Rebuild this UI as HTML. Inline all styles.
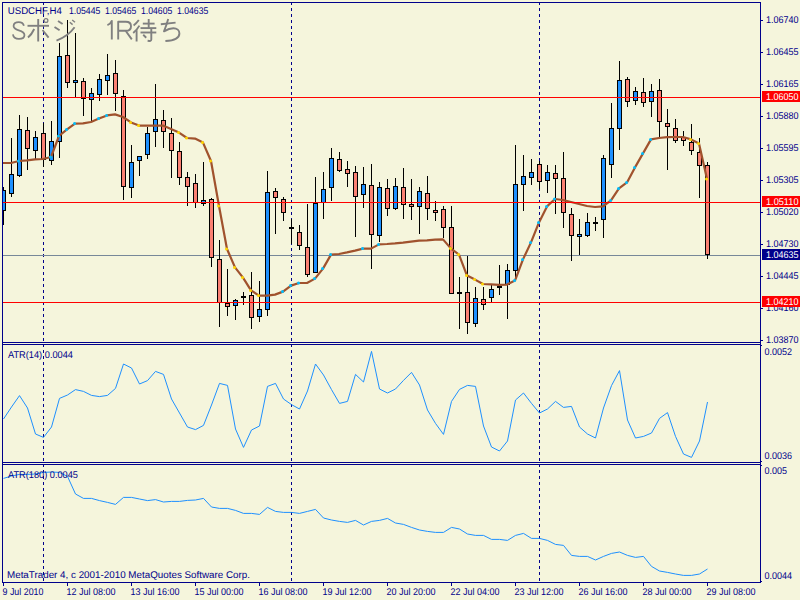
<!DOCTYPE html>
<html><head><meta charset="utf-8"><title>USDCHF,H4</title>
<style>html,body{margin:0;padding:0;background:#F5F5DC;width:800px;height:600px;overflow:hidden}body{font-family:"Liberation Sans",sans-serif}</style></head>
<body>
<svg width="800" height="600" viewBox="0 0 800 600" style="position:absolute;left:0;top:0">
<rect x="0" y="0" width="800" height="600" fill="#F5F5DC"/>
<g shape-rendering="crispEdges" fill="#00008B">
<rect x="43" y="2" width="1" height="3"/>
<rect x="43" y="8" width="1" height="3"/>
<rect x="43" y="14" width="1" height="3"/>
<rect x="43" y="20" width="1" height="3"/>
<rect x="43" y="26" width="1" height="3"/>
<rect x="43" y="32" width="1" height="3"/>
<rect x="43" y="38" width="1" height="3"/>
<rect x="43" y="44" width="1" height="3"/>
<rect x="43" y="50" width="1" height="3"/>
<rect x="43" y="56" width="1" height="3"/>
<rect x="43" y="62" width="1" height="3"/>
<rect x="43" y="68" width="1" height="3"/>
<rect x="43" y="74" width="1" height="3"/>
<rect x="43" y="80" width="1" height="3"/>
<rect x="43" y="86" width="1" height="3"/>
<rect x="43" y="92" width="1" height="3"/>
<rect x="43" y="98" width="1" height="3"/>
<rect x="43" y="104" width="1" height="3"/>
<rect x="43" y="110" width="1" height="3"/>
<rect x="43" y="116" width="1" height="3"/>
<rect x="43" y="122" width="1" height="3"/>
<rect x="43" y="128" width="1" height="3"/>
<rect x="43" y="134" width="1" height="3"/>
<rect x="43" y="140" width="1" height="3"/>
<rect x="43" y="146" width="1" height="3"/>
<rect x="43" y="152" width="1" height="3"/>
<rect x="43" y="158" width="1" height="3"/>
<rect x="43" y="164" width="1" height="3"/>
<rect x="43" y="170" width="1" height="3"/>
<rect x="43" y="176" width="1" height="3"/>
<rect x="43" y="182" width="1" height="3"/>
<rect x="43" y="188" width="1" height="3"/>
<rect x="43" y="194" width="1" height="3"/>
<rect x="43" y="200" width="1" height="3"/>
<rect x="43" y="206" width="1" height="3"/>
<rect x="43" y="212" width="1" height="3"/>
<rect x="43" y="218" width="1" height="3"/>
<rect x="43" y="224" width="1" height="3"/>
<rect x="43" y="230" width="1" height="3"/>
<rect x="43" y="236" width="1" height="3"/>
<rect x="43" y="242" width="1" height="3"/>
<rect x="43" y="248" width="1" height="3"/>
<rect x="43" y="254" width="1" height="3"/>
<rect x="43" y="260" width="1" height="3"/>
<rect x="43" y="266" width="1" height="3"/>
<rect x="43" y="272" width="1" height="3"/>
<rect x="43" y="278" width="1" height="3"/>
<rect x="43" y="284" width="1" height="3"/>
<rect x="43" y="290" width="1" height="3"/>
<rect x="43" y="296" width="1" height="3"/>
<rect x="43" y="302" width="1" height="3"/>
<rect x="43" y="308" width="1" height="3"/>
<rect x="43" y="314" width="1" height="3"/>
<rect x="43" y="320" width="1" height="3"/>
<rect x="43" y="326" width="1" height="3"/>
<rect x="43" y="332" width="1" height="3"/>
<rect x="43" y="338" width="1" height="3"/>
<rect x="43" y="344" width="1" height="3"/>
<rect x="43" y="350" width="1" height="3"/>
<rect x="43" y="356" width="1" height="3"/>
<rect x="43" y="362" width="1" height="3"/>
<rect x="43" y="368" width="1" height="3"/>
<rect x="43" y="374" width="1" height="3"/>
<rect x="43" y="380" width="1" height="3"/>
<rect x="43" y="386" width="1" height="3"/>
<rect x="43" y="392" width="1" height="3"/>
<rect x="43" y="398" width="1" height="3"/>
<rect x="43" y="404" width="1" height="3"/>
<rect x="43" y="410" width="1" height="3"/>
<rect x="43" y="416" width="1" height="3"/>
<rect x="43" y="422" width="1" height="3"/>
<rect x="43" y="428" width="1" height="3"/>
<rect x="43" y="434" width="1" height="3"/>
<rect x="43" y="440" width="1" height="3"/>
<rect x="43" y="446" width="1" height="3"/>
<rect x="43" y="452" width="1" height="3"/>
<rect x="43" y="458" width="1" height="3"/>
<rect x="43" y="464" width="1" height="3"/>
<rect x="43" y="470" width="1" height="3"/>
<rect x="43" y="476" width="1" height="3"/>
<rect x="43" y="482" width="1" height="3"/>
<rect x="43" y="488" width="1" height="3"/>
<rect x="43" y="494" width="1" height="3"/>
<rect x="43" y="500" width="1" height="3"/>
<rect x="43" y="506" width="1" height="3"/>
<rect x="43" y="512" width="1" height="3"/>
<rect x="43" y="518" width="1" height="3"/>
<rect x="43" y="524" width="1" height="3"/>
<rect x="43" y="530" width="1" height="3"/>
<rect x="43" y="536" width="1" height="3"/>
<rect x="43" y="542" width="1" height="3"/>
<rect x="43" y="548" width="1" height="3"/>
<rect x="43" y="554" width="1" height="3"/>
<rect x="43" y="560" width="1" height="3"/>
<rect x="43" y="566" width="1" height="3"/>
<rect x="43" y="572" width="1" height="3"/>
<rect x="43" y="578" width="1" height="3"/>
<rect x="291" y="2" width="1" height="3"/>
<rect x="291" y="8" width="1" height="3"/>
<rect x="291" y="14" width="1" height="3"/>
<rect x="291" y="20" width="1" height="3"/>
<rect x="291" y="26" width="1" height="3"/>
<rect x="291" y="32" width="1" height="3"/>
<rect x="291" y="38" width="1" height="3"/>
<rect x="291" y="44" width="1" height="3"/>
<rect x="291" y="50" width="1" height="3"/>
<rect x="291" y="56" width="1" height="3"/>
<rect x="291" y="62" width="1" height="3"/>
<rect x="291" y="68" width="1" height="3"/>
<rect x="291" y="74" width="1" height="3"/>
<rect x="291" y="80" width="1" height="3"/>
<rect x="291" y="86" width="1" height="3"/>
<rect x="291" y="92" width="1" height="3"/>
<rect x="291" y="98" width="1" height="3"/>
<rect x="291" y="104" width="1" height="3"/>
<rect x="291" y="110" width="1" height="3"/>
<rect x="291" y="116" width="1" height="3"/>
<rect x="291" y="122" width="1" height="3"/>
<rect x="291" y="128" width="1" height="3"/>
<rect x="291" y="134" width="1" height="3"/>
<rect x="291" y="140" width="1" height="3"/>
<rect x="291" y="146" width="1" height="3"/>
<rect x="291" y="152" width="1" height="3"/>
<rect x="291" y="158" width="1" height="3"/>
<rect x="291" y="164" width="1" height="3"/>
<rect x="291" y="170" width="1" height="3"/>
<rect x="291" y="176" width="1" height="3"/>
<rect x="291" y="182" width="1" height="3"/>
<rect x="291" y="188" width="1" height="3"/>
<rect x="291" y="194" width="1" height="3"/>
<rect x="291" y="200" width="1" height="3"/>
<rect x="291" y="206" width="1" height="3"/>
<rect x="291" y="212" width="1" height="3"/>
<rect x="291" y="218" width="1" height="3"/>
<rect x="291" y="224" width="1" height="3"/>
<rect x="291" y="230" width="1" height="3"/>
<rect x="291" y="236" width="1" height="3"/>
<rect x="291" y="242" width="1" height="3"/>
<rect x="291" y="248" width="1" height="3"/>
<rect x="291" y="254" width="1" height="3"/>
<rect x="291" y="260" width="1" height="3"/>
<rect x="291" y="266" width="1" height="3"/>
<rect x="291" y="272" width="1" height="3"/>
<rect x="291" y="278" width="1" height="3"/>
<rect x="291" y="284" width="1" height="3"/>
<rect x="291" y="290" width="1" height="3"/>
<rect x="291" y="296" width="1" height="3"/>
<rect x="291" y="302" width="1" height="3"/>
<rect x="291" y="308" width="1" height="3"/>
<rect x="291" y="314" width="1" height="3"/>
<rect x="291" y="320" width="1" height="3"/>
<rect x="291" y="326" width="1" height="3"/>
<rect x="291" y="332" width="1" height="3"/>
<rect x="291" y="338" width="1" height="3"/>
<rect x="291" y="344" width="1" height="3"/>
<rect x="291" y="350" width="1" height="3"/>
<rect x="291" y="356" width="1" height="3"/>
<rect x="291" y="362" width="1" height="3"/>
<rect x="291" y="368" width="1" height="3"/>
<rect x="291" y="374" width="1" height="3"/>
<rect x="291" y="380" width="1" height="3"/>
<rect x="291" y="386" width="1" height="3"/>
<rect x="291" y="392" width="1" height="3"/>
<rect x="291" y="398" width="1" height="3"/>
<rect x="291" y="404" width="1" height="3"/>
<rect x="291" y="410" width="1" height="3"/>
<rect x="291" y="416" width="1" height="3"/>
<rect x="291" y="422" width="1" height="3"/>
<rect x="291" y="428" width="1" height="3"/>
<rect x="291" y="434" width="1" height="3"/>
<rect x="291" y="440" width="1" height="3"/>
<rect x="291" y="446" width="1" height="3"/>
<rect x="291" y="452" width="1" height="3"/>
<rect x="291" y="458" width="1" height="3"/>
<rect x="291" y="464" width="1" height="3"/>
<rect x="291" y="470" width="1" height="3"/>
<rect x="291" y="476" width="1" height="3"/>
<rect x="291" y="482" width="1" height="3"/>
<rect x="291" y="488" width="1" height="3"/>
<rect x="291" y="494" width="1" height="3"/>
<rect x="291" y="500" width="1" height="3"/>
<rect x="291" y="506" width="1" height="3"/>
<rect x="291" y="512" width="1" height="3"/>
<rect x="291" y="518" width="1" height="3"/>
<rect x="291" y="524" width="1" height="3"/>
<rect x="291" y="530" width="1" height="3"/>
<rect x="291" y="536" width="1" height="3"/>
<rect x="291" y="542" width="1" height="3"/>
<rect x="291" y="548" width="1" height="3"/>
<rect x="291" y="554" width="1" height="3"/>
<rect x="291" y="560" width="1" height="3"/>
<rect x="291" y="566" width="1" height="3"/>
<rect x="291" y="572" width="1" height="3"/>
<rect x="291" y="578" width="1" height="3"/>
<rect x="539" y="2" width="1" height="3"/>
<rect x="539" y="8" width="1" height="3"/>
<rect x="539" y="14" width="1" height="3"/>
<rect x="539" y="20" width="1" height="3"/>
<rect x="539" y="26" width="1" height="3"/>
<rect x="539" y="32" width="1" height="3"/>
<rect x="539" y="38" width="1" height="3"/>
<rect x="539" y="44" width="1" height="3"/>
<rect x="539" y="50" width="1" height="3"/>
<rect x="539" y="56" width="1" height="3"/>
<rect x="539" y="62" width="1" height="3"/>
<rect x="539" y="68" width="1" height="3"/>
<rect x="539" y="74" width="1" height="3"/>
<rect x="539" y="80" width="1" height="3"/>
<rect x="539" y="86" width="1" height="3"/>
<rect x="539" y="92" width="1" height="3"/>
<rect x="539" y="98" width="1" height="3"/>
<rect x="539" y="104" width="1" height="3"/>
<rect x="539" y="110" width="1" height="3"/>
<rect x="539" y="116" width="1" height="3"/>
<rect x="539" y="122" width="1" height="3"/>
<rect x="539" y="128" width="1" height="3"/>
<rect x="539" y="134" width="1" height="3"/>
<rect x="539" y="140" width="1" height="3"/>
<rect x="539" y="146" width="1" height="3"/>
<rect x="539" y="152" width="1" height="3"/>
<rect x="539" y="158" width="1" height="3"/>
<rect x="539" y="164" width="1" height="3"/>
<rect x="539" y="170" width="1" height="3"/>
<rect x="539" y="176" width="1" height="3"/>
<rect x="539" y="182" width="1" height="3"/>
<rect x="539" y="188" width="1" height="3"/>
<rect x="539" y="194" width="1" height="3"/>
<rect x="539" y="200" width="1" height="3"/>
<rect x="539" y="206" width="1" height="3"/>
<rect x="539" y="212" width="1" height="3"/>
<rect x="539" y="218" width="1" height="3"/>
<rect x="539" y="224" width="1" height="3"/>
<rect x="539" y="230" width="1" height="3"/>
<rect x="539" y="236" width="1" height="3"/>
<rect x="539" y="242" width="1" height="3"/>
<rect x="539" y="248" width="1" height="3"/>
<rect x="539" y="254" width="1" height="3"/>
<rect x="539" y="260" width="1" height="3"/>
<rect x="539" y="266" width="1" height="3"/>
<rect x="539" y="272" width="1" height="3"/>
<rect x="539" y="278" width="1" height="3"/>
<rect x="539" y="284" width="1" height="3"/>
<rect x="539" y="290" width="1" height="3"/>
<rect x="539" y="296" width="1" height="3"/>
<rect x="539" y="302" width="1" height="3"/>
<rect x="539" y="308" width="1" height="3"/>
<rect x="539" y="314" width="1" height="3"/>
<rect x="539" y="320" width="1" height="3"/>
<rect x="539" y="326" width="1" height="3"/>
<rect x="539" y="332" width="1" height="3"/>
<rect x="539" y="338" width="1" height="3"/>
<rect x="539" y="344" width="1" height="3"/>
<rect x="539" y="350" width="1" height="3"/>
<rect x="539" y="356" width="1" height="3"/>
<rect x="539" y="362" width="1" height="3"/>
<rect x="539" y="368" width="1" height="3"/>
<rect x="539" y="374" width="1" height="3"/>
<rect x="539" y="380" width="1" height="3"/>
<rect x="539" y="386" width="1" height="3"/>
<rect x="539" y="392" width="1" height="3"/>
<rect x="539" y="398" width="1" height="3"/>
<rect x="539" y="404" width="1" height="3"/>
<rect x="539" y="410" width="1" height="3"/>
<rect x="539" y="416" width="1" height="3"/>
<rect x="539" y="422" width="1" height="3"/>
<rect x="539" y="428" width="1" height="3"/>
<rect x="539" y="434" width="1" height="3"/>
<rect x="539" y="440" width="1" height="3"/>
<rect x="539" y="446" width="1" height="3"/>
<rect x="539" y="452" width="1" height="3"/>
<rect x="539" y="458" width="1" height="3"/>
<rect x="539" y="464" width="1" height="3"/>
<rect x="539" y="470" width="1" height="3"/>
<rect x="539" y="476" width="1" height="3"/>
<rect x="539" y="482" width="1" height="3"/>
<rect x="539" y="488" width="1" height="3"/>
<rect x="539" y="494" width="1" height="3"/>
<rect x="539" y="500" width="1" height="3"/>
<rect x="539" y="506" width="1" height="3"/>
<rect x="539" y="512" width="1" height="3"/>
<rect x="539" y="518" width="1" height="3"/>
<rect x="539" y="524" width="1" height="3"/>
<rect x="539" y="530" width="1" height="3"/>
<rect x="539" y="536" width="1" height="3"/>
<rect x="539" y="542" width="1" height="3"/>
<rect x="539" y="548" width="1" height="3"/>
<rect x="539" y="554" width="1" height="3"/>
<rect x="539" y="560" width="1" height="3"/>
<rect x="539" y="566" width="1" height="3"/>
<rect x="539" y="572" width="1" height="3"/>
<rect x="539" y="578" width="1" height="3"/>
</g>
<g shape-rendering="crispEdges">
<rect x="3" y="255" width="757" height="1" fill="#778899"/>
</g>
<clipPath id="cp"><rect x="2" y="2" width="758" height="581"/></clipPath>
<g shape-rendering="crispEdges" clip-path="url(#cp)">
<rect x="3" y="187" width="1" height="38" fill="#000"/>
<rect x="1" y="190" width="5" height="21" fill="#000"/>
<rect x="2" y="191" width="3" height="19" fill="#1E90FF"/>
<rect x="11" y="138" width="1" height="59" fill="#000"/>
<rect x="9" y="174" width="5" height="20" fill="#000"/>
<rect x="10" y="175" width="3" height="18" fill="#1E90FF"/>
<rect x="19" y="115" width="1" height="62" fill="#000"/>
<rect x="17" y="129" width="5" height="47" fill="#000"/>
<rect x="18" y="130" width="3" height="45" fill="#1E90FF"/>
<rect x="27" y="117" width="1" height="53" fill="#000"/>
<rect x="25" y="130" width="5" height="19" fill="#000"/>
<rect x="26" y="131" width="3" height="17" fill="#FA8072"/>
<rect x="35" y="131" width="1" height="28" fill="#000"/>
<rect x="33" y="137" width="5" height="14" fill="#000"/>
<rect x="34" y="138" width="3" height="12" fill="#1E90FF"/>
<rect x="43" y="123" width="1" height="44" fill="#000"/>
<rect x="41" y="133" width="5" height="27" fill="#000"/>
<rect x="42" y="134" width="3" height="25" fill="#FA8072"/>
<rect x="51" y="121" width="1" height="44" fill="#000"/>
<rect x="49" y="141" width="5" height="20" fill="#000"/>
<rect x="50" y="142" width="3" height="18" fill="#1E90FF"/>
<rect x="59" y="43" width="1" height="115" fill="#000"/>
<rect x="57" y="56" width="5" height="86" fill="#000"/>
<rect x="58" y="57" width="3" height="84" fill="#1E90FF"/>
<rect x="67" y="20" width="1" height="68" fill="#000"/>
<rect x="65" y="55" width="5" height="28" fill="#000"/>
<rect x="66" y="56" width="3" height="26" fill="#FA8072"/>
<rect x="75" y="33" width="1" height="64" fill="#000"/>
<rect x="73" y="80" width="5" height="3" fill="#000"/>
<rect x="74" y="81" width="3" height="1" fill="#1E90FF"/>
<rect x="83" y="78" width="1" height="38" fill="#000"/>
<rect x="81" y="81" width="5" height="18" fill="#000"/>
<rect x="82" y="82" width="3" height="16" fill="#FA8072"/>
<rect x="91" y="88" width="1" height="33" fill="#000"/>
<rect x="89" y="93" width="5" height="7" fill="#000"/>
<rect x="90" y="94" width="3" height="5" fill="#1E90FF"/>
<rect x="99" y="74" width="1" height="27" fill="#000"/>
<rect x="97" y="79" width="5" height="16" fill="#000"/>
<rect x="98" y="80" width="3" height="14" fill="#1E90FF"/>
<rect x="107" y="54" width="1" height="41" fill="#000"/>
<rect x="105" y="75" width="5" height="6" fill="#000"/>
<rect x="106" y="76" width="3" height="4" fill="#1E90FF"/>
<rect x="115" y="60" width="1" height="51" fill="#000"/>
<rect x="113" y="73" width="5" height="21" fill="#000"/>
<rect x="114" y="74" width="3" height="19" fill="#FA8072"/>
<rect x="123" y="90" width="1" height="110" fill="#000"/>
<rect x="121" y="96" width="5" height="91" fill="#000"/>
<rect x="122" y="97" width="3" height="89" fill="#FA8072"/>
<rect x="131" y="145" width="1" height="53" fill="#000"/>
<rect x="129" y="162" width="5" height="26" fill="#000"/>
<rect x="130" y="163" width="3" height="24" fill="#1E90FF"/>
<rect x="139" y="156" width="1" height="20" fill="#000"/>
<rect x="137" y="156" width="5" height="5" fill="#000"/>
<rect x="138" y="157" width="3" height="3" fill="#1E90FF"/>
<rect x="147" y="127" width="1" height="32" fill="#000"/>
<rect x="145" y="133" width="5" height="22" fill="#000"/>
<rect x="146" y="134" width="3" height="20" fill="#1E90FF"/>
<rect x="155" y="84" width="1" height="63" fill="#000"/>
<rect x="153" y="119" width="5" height="13" fill="#000"/>
<rect x="154" y="120" width="3" height="11" fill="#1E90FF"/>
<rect x="163" y="110" width="1" height="38" fill="#000"/>
<rect x="161" y="120" width="5" height="12" fill="#000"/>
<rect x="162" y="121" width="3" height="10" fill="#FA8072"/>
<rect x="171" y="118" width="1" height="60" fill="#000"/>
<rect x="169" y="133" width="5" height="18" fill="#000"/>
<rect x="170" y="134" width="3" height="16" fill="#FA8072"/>
<rect x="179" y="142" width="1" height="43" fill="#000"/>
<rect x="177" y="151" width="5" height="27" fill="#000"/>
<rect x="178" y="152" width="3" height="25" fill="#FA8072"/>
<rect x="187" y="172" width="1" height="34" fill="#000"/>
<rect x="185" y="177" width="5" height="10" fill="#000"/>
<rect x="186" y="178" width="3" height="8" fill="#FA8072"/>
<rect x="195" y="174" width="1" height="34" fill="#000"/>
<rect x="193" y="183" width="5" height="20" fill="#000"/>
<rect x="194" y="184" width="3" height="18" fill="#FA8072"/>
<rect x="203" y="162" width="1" height="44" fill="#000"/>
<rect x="201" y="200" width="5" height="4" fill="#000"/>
<rect x="202" y="201" width="3" height="2" fill="#1E90FF"/>
<rect x="211" y="198" width="1" height="69" fill="#000"/>
<rect x="209" y="199" width="5" height="59" fill="#000"/>
<rect x="210" y="200" width="3" height="57" fill="#FA8072"/>
<rect x="219" y="240" width="1" height="87" fill="#000"/>
<rect x="217" y="259" width="5" height="44" fill="#000"/>
<rect x="218" y="260" width="3" height="42" fill="#FA8072"/>
<rect x="227" y="269" width="1" height="47" fill="#000"/>
<rect x="225" y="303" width="5" height="4" fill="#000"/>
<rect x="226" y="304" width="3" height="2" fill="#FA8072"/>
<rect x="235" y="299" width="1" height="21" fill="#000"/>
<rect x="233" y="300" width="5" height="6" fill="#000"/>
<rect x="234" y="301" width="3" height="4" fill="#1E90FF"/>
<rect x="243" y="292" width="1" height="13" fill="#000"/>
<rect x="241" y="296" width="5" height="2" fill="#000"/>
<rect x="251" y="272" width="1" height="57" fill="#000"/>
<rect x="249" y="295" width="5" height="23" fill="#000"/>
<rect x="250" y="296" width="3" height="21" fill="#FA8072"/>
<rect x="259" y="281" width="1" height="41" fill="#000"/>
<rect x="257" y="309" width="5" height="8" fill="#000"/>
<rect x="258" y="310" width="3" height="6" fill="#1E90FF"/>
<rect x="267" y="171" width="1" height="145" fill="#000"/>
<rect x="265" y="192" width="5" height="118" fill="#000"/>
<rect x="266" y="193" width="3" height="116" fill="#1E90FF"/>
<rect x="275" y="188" width="1" height="46" fill="#000"/>
<rect x="273" y="191" width="5" height="7" fill="#000"/>
<rect x="274" y="192" width="3" height="5" fill="#FA8072"/>
<rect x="283" y="197" width="1" height="24" fill="#000"/>
<rect x="281" y="199" width="5" height="14" fill="#000"/>
<rect x="282" y="200" width="3" height="12" fill="#FA8072"/>
<rect x="291" y="219" width="1" height="25" fill="#000"/>
<rect x="289" y="227" width="5" height="2" fill="#000"/>
<rect x="299" y="225" width="1" height="25" fill="#000"/>
<rect x="297" y="232" width="5" height="14" fill="#000"/>
<rect x="298" y="233" width="3" height="12" fill="#FA8072"/>
<rect x="307" y="204" width="1" height="73" fill="#000"/>
<rect x="305" y="247" width="5" height="28" fill="#000"/>
<rect x="306" y="248" width="3" height="26" fill="#FA8072"/>
<rect x="315" y="177" width="1" height="96" fill="#000"/>
<rect x="313" y="203" width="5" height="70" fill="#000"/>
<rect x="314" y="204" width="3" height="68" fill="#1E90FF"/>
<rect x="323" y="172" width="1" height="47" fill="#000"/>
<rect x="321" y="189" width="5" height="14" fill="#000"/>
<rect x="322" y="190" width="3" height="12" fill="#1E90FF"/>
<rect x="331" y="148" width="1" height="53" fill="#000"/>
<rect x="329" y="158" width="5" height="30" fill="#000"/>
<rect x="330" y="159" width="3" height="28" fill="#1E90FF"/>
<rect x="339" y="152" width="1" height="20" fill="#000"/>
<rect x="337" y="159" width="5" height="12" fill="#000"/>
<rect x="338" y="160" width="3" height="10" fill="#FA8072"/>
<rect x="347" y="161" width="1" height="26" fill="#000"/>
<rect x="345" y="169" width="5" height="5" fill="#000"/>
<rect x="346" y="170" width="3" height="3" fill="#FA8072"/>
<rect x="355" y="166" width="1" height="71" fill="#000"/>
<rect x="353" y="172" width="5" height="25" fill="#000"/>
<rect x="354" y="173" width="3" height="23" fill="#FA8072"/>
<rect x="363" y="167" width="1" height="41" fill="#000"/>
<rect x="361" y="184" width="5" height="11" fill="#000"/>
<rect x="362" y="185" width="3" height="9" fill="#1E90FF"/>
<rect x="371" y="164" width="1" height="105" fill="#000"/>
<rect x="369" y="185" width="5" height="50" fill="#000"/>
<rect x="370" y="186" width="3" height="48" fill="#FA8072"/>
<rect x="379" y="182" width="1" height="60" fill="#000"/>
<rect x="377" y="187" width="5" height="49" fill="#000"/>
<rect x="378" y="188" width="3" height="47" fill="#1E90FF"/>
<rect x="387" y="179" width="1" height="37" fill="#000"/>
<rect x="385" y="188" width="5" height="21" fill="#000"/>
<rect x="386" y="189" width="3" height="19" fill="#FA8072"/>
<rect x="395" y="178" width="1" height="32" fill="#000"/>
<rect x="393" y="186" width="5" height="23" fill="#000"/>
<rect x="394" y="187" width="3" height="21" fill="#1E90FF"/>
<rect x="403" y="168" width="1" height="51" fill="#000"/>
<rect x="401" y="187" width="5" height="18" fill="#000"/>
<rect x="402" y="188" width="3" height="16" fill="#FA8072"/>
<rect x="411" y="179" width="1" height="41" fill="#000"/>
<rect x="409" y="204" width="5" height="3" fill="#000"/>
<rect x="410" y="205" width="3" height="1" fill="#FA8072"/>
<rect x="419" y="187" width="1" height="47" fill="#000"/>
<rect x="417" y="191" width="5" height="16" fill="#000"/>
<rect x="418" y="192" width="3" height="14" fill="#1E90FF"/>
<rect x="427" y="176" width="1" height="44" fill="#000"/>
<rect x="425" y="193" width="5" height="16" fill="#000"/>
<rect x="426" y="194" width="3" height="14" fill="#FA8072"/>
<rect x="435" y="201" width="1" height="20" fill="#000"/>
<rect x="433" y="210" width="5" height="3" fill="#000"/>
<rect x="434" y="211" width="3" height="1" fill="#FA8072"/>
<rect x="443" y="206" width="1" height="32" fill="#000"/>
<rect x="441" y="209" width="5" height="19" fill="#000"/>
<rect x="442" y="210" width="3" height="17" fill="#FA8072"/>
<rect x="451" y="206" width="1" height="88" fill="#000"/>
<rect x="449" y="227" width="5" height="67" fill="#000"/>
<rect x="450" y="228" width="3" height="65" fill="#FA8072"/>
<rect x="459" y="277" width="1" height="52" fill="#000"/>
<rect x="457" y="292" width="5" height="2" fill="#000"/>
<rect x="467" y="256" width="1" height="78" fill="#000"/>
<rect x="465" y="292" width="5" height="31" fill="#000"/>
<rect x="466" y="293" width="3" height="29" fill="#FA8072"/>
<rect x="475" y="287" width="1" height="40" fill="#000"/>
<rect x="473" y="298" width="5" height="26" fill="#000"/>
<rect x="474" y="299" width="3" height="24" fill="#1E90FF"/>
<rect x="483" y="287" width="1" height="23" fill="#000"/>
<rect x="481" y="299" width="5" height="6" fill="#000"/>
<rect x="482" y="300" width="3" height="4" fill="#FA8072"/>
<rect x="491" y="285" width="1" height="17" fill="#000"/>
<rect x="489" y="289" width="5" height="9" fill="#000"/>
<rect x="490" y="290" width="3" height="7" fill="#1E90FF"/>
<rect x="499" y="265" width="1" height="30" fill="#000"/>
<rect x="497" y="286" width="5" height="2" fill="#000"/>
<rect x="507" y="264" width="1" height="55" fill="#000"/>
<rect x="505" y="270" width="5" height="15" fill="#000"/>
<rect x="506" y="271" width="3" height="13" fill="#1E90FF"/>
<rect x="515" y="145" width="1" height="133" fill="#000"/>
<rect x="513" y="184" width="5" height="87" fill="#000"/>
<rect x="514" y="185" width="3" height="85" fill="#1E90FF"/>
<rect x="523" y="155" width="1" height="56" fill="#000"/>
<rect x="521" y="176" width="5" height="9" fill="#000"/>
<rect x="522" y="177" width="3" height="7" fill="#1E90FF"/>
<rect x="531" y="159" width="1" height="26" fill="#000"/>
<rect x="529" y="172" width="5" height="6" fill="#000"/>
<rect x="530" y="173" width="3" height="4" fill="#1E90FF"/>
<rect x="539" y="161" width="1" height="28" fill="#000"/>
<rect x="537" y="164" width="5" height="18" fill="#000"/>
<rect x="538" y="165" width="3" height="16" fill="#FA8072"/>
<rect x="547" y="165" width="1" height="28" fill="#000"/>
<rect x="545" y="172" width="5" height="9" fill="#000"/>
<rect x="546" y="173" width="3" height="7" fill="#1E90FF"/>
<rect x="555" y="165" width="1" height="49" fill="#000"/>
<rect x="553" y="173" width="5" height="6" fill="#000"/>
<rect x="554" y="174" width="3" height="4" fill="#FA8072"/>
<rect x="563" y="152" width="1" height="76" fill="#000"/>
<rect x="561" y="178" width="5" height="35" fill="#000"/>
<rect x="562" y="179" width="3" height="33" fill="#FA8072"/>
<rect x="571" y="208" width="1" height="53" fill="#000"/>
<rect x="569" y="214" width="5" height="22" fill="#000"/>
<rect x="570" y="215" width="3" height="20" fill="#FA8072"/>
<rect x="579" y="219" width="1" height="36" fill="#000"/>
<rect x="577" y="234" width="5" height="3" fill="#000"/>
<rect x="578" y="235" width="3" height="1" fill="#1E90FF"/>
<rect x="587" y="213" width="1" height="24" fill="#000"/>
<rect x="585" y="222" width="5" height="14" fill="#000"/>
<rect x="586" y="223" width="3" height="12" fill="#1E90FF"/>
<rect x="595" y="217" width="1" height="14" fill="#000"/>
<rect x="593" y="222" width="5" height="2" fill="#000"/>
<rect x="603" y="155" width="1" height="83" fill="#000"/>
<rect x="601" y="158" width="5" height="62" fill="#000"/>
<rect x="602" y="159" width="3" height="60" fill="#1E90FF"/>
<rect x="611" y="103" width="1" height="75" fill="#000"/>
<rect x="609" y="128" width="5" height="37" fill="#000"/>
<rect x="610" y="129" width="3" height="35" fill="#1E90FF"/>
<rect x="619" y="61" width="1" height="89" fill="#000"/>
<rect x="617" y="80" width="5" height="49" fill="#000"/>
<rect x="618" y="81" width="3" height="47" fill="#1E90FF"/>
<rect x="627" y="77" width="1" height="30" fill="#000"/>
<rect x="625" y="79" width="5" height="23" fill="#000"/>
<rect x="626" y="80" width="3" height="21" fill="#FA8072"/>
<rect x="635" y="87" width="1" height="18" fill="#000"/>
<rect x="633" y="91" width="5" height="10" fill="#000"/>
<rect x="634" y="92" width="3" height="8" fill="#1E90FF"/>
<rect x="643" y="78" width="1" height="29" fill="#000"/>
<rect x="641" y="92" width="5" height="11" fill="#000"/>
<rect x="642" y="93" width="3" height="9" fill="#FA8072"/>
<rect x="651" y="84" width="1" height="33" fill="#000"/>
<rect x="649" y="91" width="5" height="11" fill="#000"/>
<rect x="650" y="92" width="3" height="9" fill="#1E90FF"/>
<rect x="659" y="79" width="1" height="59" fill="#000"/>
<rect x="657" y="90" width="5" height="32" fill="#000"/>
<rect x="658" y="91" width="3" height="30" fill="#FA8072"/>
<rect x="667" y="109" width="1" height="61" fill="#000"/>
<rect x="665" y="123" width="5" height="4" fill="#000"/>
<rect x="666" y="124" width="3" height="2" fill="#FA8072"/>
<rect x="675" y="119" width="1" height="24" fill="#000"/>
<rect x="673" y="128" width="5" height="13" fill="#000"/>
<rect x="674" y="129" width="3" height="11" fill="#FA8072"/>
<rect x="683" y="131" width="1" height="15" fill="#000"/>
<rect x="681" y="137" width="5" height="4" fill="#000"/>
<rect x="682" y="138" width="3" height="2" fill="#FA8072"/>
<rect x="691" y="124" width="1" height="31" fill="#000"/>
<rect x="689" y="142" width="5" height="9" fill="#000"/>
<rect x="690" y="143" width="3" height="7" fill="#FA8072"/>
<rect x="699" y="138" width="1" height="60" fill="#000"/>
<rect x="697" y="152" width="5" height="14" fill="#000"/>
<rect x="698" y="153" width="3" height="12" fill="#FA8072"/>
<rect x="707" y="162" width="1" height="97" fill="#000"/>
<rect x="705" y="165" width="5" height="90" fill="#000"/>
<rect x="706" y="166" width="3" height="88" fill="#FA8072"/>
</g>
<polyline points="3,163.0 11,163.0 19,161.0 27,160.4 35,159.4 43,159.0 51,157.0 59,136.0 67,129.4 75,123.6 83,123.4 91,122.0 99,118.6 107,115.4 115,114.4 123,117.0 131,122.4 139,125.6 147,125.6 155,125.6 163,125.6 171,129.0 179,132.6 187,138.0 195,138.6 203,142.6 211,161.0 219,206.0 227,249.0 235,267.4 243,277.6 251,290.4 259,295.6 267,295.6 275,294.6 283,291.6 291,285.6 299,283.0 307,283.0 315,278.6 323,268.6 331,254.6 339,254.0 347,252.4 355,250.6 363,248.6 371,248.6 379,244.4 387,244.0 395,243.4 403,242.6 411,241.6 419,240.6 427,240.4 435,239.6 443,239.4 451,248.6 459,254.6 467,275.6 475,279.6 483,284.0 491,284.4 499,284.8 507,284.6 515,280.6 523,259.4 531,242.4 539,222.4 547,206.4 555,199.0 563,200.0 571,202.0 579,204.0 587,206.0 595,207.0 603,206.4 611,200.4 619,188.4 627,182.4 635,167.4 643,153.4 651,139.4 659,138.0 667,137.2 675,137.0 683,137.0 691,139.4 699,143.4 707,179.0" fill="none" stroke="#A0522D" stroke-width="2.2" stroke-linejoin="round" stroke-linecap="butt"/>
<circle cx="18.5" cy="161.0" r="1.5" fill="#00BFFF"/>
<circle cx="50.5" cy="157.0" r="1.5" fill="#00BFFF"/>
<circle cx="58.5" cy="136.0" r="1.5" fill="#00BFFF"/>
<circle cx="66.5" cy="129.4" r="1.5" fill="#00BFFF"/>
<circle cx="74.5" cy="123.6" r="1.5" fill="#00BFFF"/>
<circle cx="98.5" cy="118.6" r="1.5" fill="#00BFFF"/>
<circle cx="106.5" cy="115.4" r="1.5" fill="#00BFFF"/>
<circle cx="282.5" cy="291.6" r="1.5" fill="#00BFFF"/>
<circle cx="290.5" cy="285.6" r="1.5" fill="#00BFFF"/>
<circle cx="298.5" cy="283.0" r="1.5" fill="#00BFFF"/>
<circle cx="314.5" cy="278.6" r="1.5" fill="#00BFFF"/>
<circle cx="322.5" cy="268.6" r="1.5" fill="#00BFFF"/>
<circle cx="330.5" cy="254.6" r="1.5" fill="#00BFFF"/>
<circle cx="362.5" cy="248.6" r="1.5" fill="#00BFFF"/>
<circle cx="378.5" cy="244.4" r="1.5" fill="#00BFFF"/>
<circle cx="514.5" cy="280.6" r="1.5" fill="#00BFFF"/>
<circle cx="522.5" cy="259.4" r="1.5" fill="#00BFFF"/>
<circle cx="530.5" cy="242.4" r="1.5" fill="#00BFFF"/>
<circle cx="538.5" cy="222.4" r="1.5" fill="#00BFFF"/>
<circle cx="546.5" cy="206.4" r="1.5" fill="#00BFFF"/>
<circle cx="554.5" cy="199.0" r="1.5" fill="#00BFFF"/>
<circle cx="610.5" cy="200.4" r="1.5" fill="#00BFFF"/>
<circle cx="618.5" cy="188.4" r="1.5" fill="#00BFFF"/>
<circle cx="626.5" cy="182.4" r="1.5" fill="#00BFFF"/>
<circle cx="634.5" cy="167.4" r="1.5" fill="#00BFFF"/>
<circle cx="642.5" cy="153.4" r="1.5" fill="#00BFFF"/>
<circle cx="650.5" cy="139.4" r="1.5" fill="#00BFFF"/>
<circle cx="130.5" cy="122.4" r="1.5" fill="#FFD700"/>
<circle cx="138.5" cy="125.6" r="1.5" fill="#FFD700"/>
<circle cx="178.5" cy="132.6" r="1.5" fill="#FFD700"/>
<circle cx="186.5" cy="138.0" r="1.5" fill="#FFD700"/>
<circle cx="202.5" cy="142.6" r="1.5" fill="#FFD700"/>
<circle cx="210.5" cy="161.0" r="1.5" fill="#FFD700"/>
<circle cx="218.5" cy="206.0" r="1.5" fill="#FFD700"/>
<circle cx="226.5" cy="249.0" r="1.5" fill="#FFD700"/>
<circle cx="234.5" cy="267.4" r="1.5" fill="#FFD700"/>
<circle cx="242.5" cy="277.6" r="1.5" fill="#FFD700"/>
<circle cx="250.5" cy="290.4" r="1.5" fill="#FFD700"/>
<circle cx="258.5" cy="295.6" r="1.5" fill="#FFD700"/>
<circle cx="450.5" cy="248.6" r="1.5" fill="#FFD700"/>
<circle cx="458.5" cy="254.6" r="1.5" fill="#FFD700"/>
<circle cx="466.5" cy="275.6" r="1.5" fill="#FFD700"/>
<circle cx="474.5" cy="279.6" r="1.5" fill="#FFD700"/>
<circle cx="482.5" cy="284.0" r="1.5" fill="#FFD700"/>
<circle cx="690.5" cy="139.4" r="1.5" fill="#FFD700"/>
<circle cx="698.5" cy="143.4" r="1.5" fill="#FFD700"/>
<circle cx="706.5" cy="179.0" r="1.5" fill="#FFD700"/>
<g shape-rendering="crispEdges">
<rect x="3" y="97" width="757" height="1" fill="#FF0000"/>
<rect x="3" y="202" width="757" height="1" fill="#FF0000"/>
<rect x="3" y="302" width="757" height="1" fill="#FF0000"/>
</g>
<polyline points="3.5,419.0 11.5,407.0 19.5,395.6 27.5,408.0 35.5,434.0 43.5,437.4 51.5,427.0 59.5,398.4 67.5,395.0 75.5,389.6 83.5,391.4 91.5,395.4 99.5,396.6 107.5,395.4 115.5,388.4 123.5,364.0 131.5,368.0 139.5,384.0 147.5,380.6 155.5,371.4 163.5,374.4 171.5,399.0 179.5,413.0 187.5,427.0 195.5,429.6 203.5,425.4 211.5,405.0 219.5,383.4 227.5,385.4 235.5,429.0 243.5,447.4 251.5,430.0 259.5,426.0 267.5,386.4 275.5,383.4 283.5,399.0 291.5,404.6 299.5,409.0 307.5,391.0 315.5,364.0 323.5,375.0 331.5,389.6 339.5,403.4 347.5,401.4 355.5,374.4 363.5,382.0 371.5,351.4 379.5,389.0 387.5,393.0 395.5,389.0 403.5,380.4 411.5,372.4 419.5,385.0 427.5,410.0 435.5,423.4 443.5,434.4 451.5,401.4 459.5,389.4 467.5,385.4 475.5,386.4 483.5,426.0 491.5,447.0 499.5,451.0 507.5,441.0 515.5,400.0 523.5,393.0 531.5,403.4 539.5,413.0 547.5,409.0 555.5,401.4 563.5,407.4 571.5,406.4 579.5,427.0 587.5,434.0 595.5,438.0 603.5,408.0 611.5,385.6 619.5,370.6 627.5,420.0 635.5,438.0 643.5,436.4 651.5,433.0 659.5,418.4 667.5,412.6 675.5,436.4 683.5,454.0 691.5,457.4 699.5,441.0 707.5,402.0" fill="none" stroke="#1E90FF" stroke-width="1" stroke-linejoin="round"/>
<polyline points="3.5,478.4 11.5,476.0 19.5,474.4 27.5,474.4 35.5,474.0 43.5,472.4 51.5,472.0 59.5,472.4 67.5,476.4 75.5,494.0 83.5,498.4 91.5,498.4 99.5,500.6 107.5,502.4 115.5,504.4 123.5,497.4 131.5,497.4 139.5,499.0 147.5,500.6 155.5,499.6 163.5,502.0 171.5,501.4 179.5,501.4 187.5,500.4 195.5,500.0 203.5,498.4 211.5,507.0 219.5,508.4 227.5,508.4 235.5,510.4 243.5,513.4 251.5,513.4 259.5,514.4 267.5,507.4 275.5,511.4 283.5,512.4 291.5,512.4 299.5,513.4 307.5,511.4 315.5,509.4 323.5,518.0 331.5,520.0 339.5,521.4 347.5,522.4 355.5,520.4 363.5,525.0 371.5,521.4 379.5,520.4 387.5,518.4 395.5,523.0 403.5,524.4 411.5,527.4 419.5,530.0 427.5,531.4 435.5,532.4 443.5,532.4 451.5,527.4 459.5,529.0 467.5,534.0 475.5,535.4 483.5,535.4 491.5,539.4 499.5,539.4 507.5,540.4 515.5,535.4 523.5,533.4 531.5,538.4 539.5,538.4 547.5,540.4 555.5,544.4 563.5,545.4 571.5,555.4 579.5,556.4 587.5,556.4 595.5,560.0 603.5,556.4 611.5,553.4 619.5,552.0 627.5,555.4 635.5,557.4 643.5,556.4 651.5,566.4 659.5,571.0 667.5,572.4 675.5,574.0 683.5,575.4 691.5,575.4 699.5,574.0 707.5,569.0" fill="none" stroke="#1E90FF" stroke-width="1" stroke-linejoin="round"/>
<g id="biglabel" fill="none" stroke="#808080" stroke-width="1.9" stroke-linecap="butt" stroke-linejoin="round">
<path transform="translate(18.6 30.4) scale(0.93 0.96) translate(-18.6 -30.4)" d="M24.3 25.6 C23.6 22.6 21.4 21.7 18.6 21.7 C15.6 21.7 13.2 23.2 13.2 25.9 C13.2 28.6 15.6 29.4 18.8 30.3 C22.4 31.3 24.9 32.2 24.9 35.2 C24.9 38.0 22.4 39.3 19.0 39.3 C15.4 39.3 13.0 37.8 12.5 34.6"/>
<path d="M27.5 25.8 H49"/>
<path d="M38.2 19 V41.5"/>
<path d="M34.2 29 C32.6 32.5 30.6 35.4 28 37.6"/>
<path d="M42.6 30 C44.4 32.4 46.6 35 48.6 37.6"/>
<circle cx="46" cy="20.5" r="1.9" stroke-width="1.3"/>
<path d="M58 21 L62.6 24"/>
<path d="M54.5 27 L59.6 30.2"/>
<path d="M74.6 27.3 C70.5 33 64.5 37.6 56.5 40.6"/>
<path d="M69.8 22.3 L72.6 24.6" stroke-width="1.4"/>
<path d="M72.2 20 L75 22.3" stroke-width="1.4"/>
<path d="M107.4 25.2 C109.6 24.4 111 23 111.8 20.9 V39.4"/>
<path d="M118.2 39.4 V21.7 H125.8 C129.4 21.7 131 23.6 131 26.2 C131 29 129.2 30.8 125.8 30.8 H118.2 M125.6 30.8 L131.8 39.4"/>
<path d="M138.8 20 C137.4 22 135.8 23.8 133.6 25.4"/>
<path d="M139.4 25.6 C137.8 28.4 135.8 30.9 133.2 33"/>
<path d="M136.6 30.2 V41.5"/>
<path d="M142.8 23.6 H154.6"/>
<path d="M148.7 19 V28"/>
<path d="M140.5 28.1 H156.3"/>
<path d="M140.5 32.5 H156.3"/>
<path d="M151.3 28.2 V39.6 C151.3 40.9 150.4 41.2 147.6 40.8"/>
<path d="M143.2 34.8 L146.2 37.7"/>
<path d="M160.8 24.2 L175.6 22.6"/>
<path d="M168.2 19 C167 23.4 165.6 27.4 164 31.4 C167 29.6 170.2 28.3 173.4 28.3 C177 28.3 179.4 30.4 179.4 33.4 C179.4 37.6 174.6 40.4 165.4 41"/>
</g>
<g shape-rendering="crispEdges" fill="#00008B">
<rect x="2" y="2" width="759" height="1"/>
<rect x="2" y="2" width="1" height="581"/>
<rect x="760" y="2" width="1" height="581"/>
<rect x="2" y="342" width="759" height="1"/>
<rect x="2" y="344" width="759" height="1"/>
<rect x="2" y="462" width="759" height="1"/>
<rect x="2" y="464" width="759" height="1"/>
<rect x="2" y="582" width="759" height="1"/>
<rect x="761" y="20" width="2" height="1"/>
<rect x="761" y="52" width="2" height="1"/>
<rect x="761" y="84" width="2" height="1"/>
<rect x="761" y="116" width="2" height="1"/>
<rect x="761" y="148" width="2" height="1"/>
<rect x="761" y="180" width="2" height="1"/>
<rect x="761" y="212" width="2" height="1"/>
<rect x="761" y="244" width="2" height="1"/>
<rect x="761" y="276" width="2" height="1"/>
<rect x="761" y="308" width="2" height="1"/>
<rect x="761" y="340" width="2" height="1"/>
<rect x="761" y="345" width="1" height="1"/>
<rect x="761" y="461" width="1" height="1"/>
<rect x="761" y="465" width="1" height="1"/>
<rect x="761" y="581" width="1" height="1"/>
<rect x="3" y="583" width="1" height="3"/>
<rect x="67" y="583" width="1" height="3"/>
<rect x="131" y="583" width="1" height="3"/>
<rect x="195" y="583" width="1" height="3"/>
<rect x="259" y="583" width="1" height="3"/>
<rect x="323" y="583" width="1" height="3"/>
<rect x="387" y="583" width="1" height="3"/>
<rect x="451" y="583" width="1" height="3"/>
<rect x="515" y="583" width="1" height="3"/>
<rect x="579" y="583" width="1" height="3"/>
<rect x="643" y="583" width="1" height="3"/>
<rect x="707" y="583" width="1" height="3"/>
</g>
<g font-family="'Liberation Sans', sans-serif" font-size="9.8px" fill="#00008B" text-rendering="geometricPrecision">
<text x="766" y="23.2" textLength="32.5" lengthAdjust="spacingAndGlyphs">1.06740</text>
<text x="766" y="55.2" textLength="32.5" lengthAdjust="spacingAndGlyphs">1.06455</text>
<text x="766" y="87.2" textLength="32.5" lengthAdjust="spacingAndGlyphs">1.06165</text>
<text x="766" y="119.2" textLength="32.5" lengthAdjust="spacingAndGlyphs">1.05880</text>
<text x="766" y="151.2" textLength="32.5" lengthAdjust="spacingAndGlyphs">1.05595</text>
<text x="766" y="183.2" textLength="32.5" lengthAdjust="spacingAndGlyphs">1.05305</text>
<text x="766" y="215.2" textLength="32.5" lengthAdjust="spacingAndGlyphs">1.05020</text>
<text x="766" y="247.2" textLength="32.5" lengthAdjust="spacingAndGlyphs">1.04730</text>
<text x="766" y="279.2" textLength="32.5" lengthAdjust="spacingAndGlyphs">1.04445</text>
<text x="766" y="311.2" textLength="32.5" lengthAdjust="spacingAndGlyphs">1.04160</text>
<text x="766" y="343.2" textLength="32.5" lengthAdjust="spacingAndGlyphs">1.03870</text>
<g shape-rendering="crispEdges">
<rect x="762" y="91" width="38" height="11" fill="#FF0000"/>
<rect x="762" y="196" width="38" height="11" fill="#FF0000"/>
<rect x="762" y="296" width="38" height="11" fill="#FF0000"/>
<rect x="762" y="249" width="38" height="11" fill="#00008B"/>
</g>
<text x="766" y="100.0" fill="#fff" textLength="32.5" lengthAdjust="spacingAndGlyphs">1.06050</text>
<text x="766" y="205.0" fill="#fff" textLength="32.5" lengthAdjust="spacingAndGlyphs">1.05110</text>
<text x="766" y="305.0" fill="#fff" textLength="32.5" lengthAdjust="spacingAndGlyphs">1.04210</text>
<text x="766" y="258.0" fill="#fff" textLength="32.5" lengthAdjust="spacingAndGlyphs">1.04635</text>
<text x="764.5" y="354.6" textLength="27.5" lengthAdjust="spacingAndGlyphs">0.0052</text>
<text x="764.5" y="459.2" textLength="27.5" lengthAdjust="spacingAndGlyphs">0.0036</text>
<text x="764.5" y="474.4" textLength="22.5" lengthAdjust="spacingAndGlyphs">0.005</text>
<text x="764.5" y="578.8" textLength="27.5" lengthAdjust="spacingAndGlyphs">0.0044</text>
<text x="7.8" y="14" textLength="54" lengthAdjust="spacingAndGlyphs">USDCHF,H4</text>
<text x="69" y="14" textLength="31.3" lengthAdjust="spacingAndGlyphs">1.05445</text>
<text x="105" y="14" textLength="31.3" lengthAdjust="spacingAndGlyphs">1.05465</text>
<text x="141" y="14" textLength="31.3" lengthAdjust="spacingAndGlyphs">1.04605</text>
<text x="177" y="14" textLength="31.3" lengthAdjust="spacingAndGlyphs">1.04635</text>
<text x="8" y="358" textLength="65" lengthAdjust="spacingAndGlyphs">ATR(14) 0.0044</text>
<text x="8" y="478" textLength="70" lengthAdjust="spacingAndGlyphs">ATR(180) 0.0045</text>
<text x="7" y="578" textLength="243" lengthAdjust="spacingAndGlyphs">MetaTrader 4, c 2001-2010 MetaQuotes Software Corp.</text>
<text x="2.5" y="595" textLength="41" lengthAdjust="spacingAndGlyphs">9 Jul 2010</text>
<text x="66.5" y="595" textLength="49" lengthAdjust="spacingAndGlyphs">12 Jul 08:00</text>
<text x="130.5" y="595" textLength="49" lengthAdjust="spacingAndGlyphs">13 Jul 16:00</text>
<text x="194.5" y="595" textLength="49" lengthAdjust="spacingAndGlyphs">15 Jul 00:00</text>
<text x="258.5" y="595" textLength="49" lengthAdjust="spacingAndGlyphs">16 Jul 08:00</text>
<text x="322.5" y="595" textLength="49" lengthAdjust="spacingAndGlyphs">19 Jul 12:00</text>
<text x="386.5" y="595" textLength="49" lengthAdjust="spacingAndGlyphs">20 Jul 20:00</text>
<text x="450.5" y="595" textLength="49" lengthAdjust="spacingAndGlyphs">22 Jul 04:00</text>
<text x="514.5" y="595" textLength="49" lengthAdjust="spacingAndGlyphs">23 Jul 12:00</text>
<text x="578.5" y="595" textLength="49" lengthAdjust="spacingAndGlyphs">26 Jul 16:00</text>
<text x="642.5" y="595" textLength="49" lengthAdjust="spacingAndGlyphs">28 Jul 00:00</text>
<text x="706.5" y="595" textLength="49" lengthAdjust="spacingAndGlyphs">29 Jul 08:00</text>
</g>
</svg>
</body></html>
